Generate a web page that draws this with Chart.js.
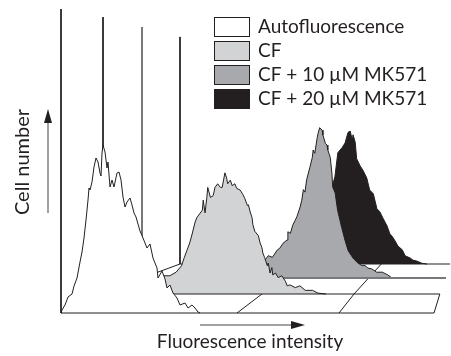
<!DOCTYPE html>
<html><head><meta charset="utf-8">
<script src="https://cdn.jsdelivr.net/npm/chart.js@4"></script>
<style>html,body{margin:0;padding:0;background:#fff;}#wrap{width:451px;height:356px;}</style>
</head><body><div id="wrap"><canvas id="c" width="451" height="356"></canvas></div>
<script>
// ---- data ----
const seriesLabels = ['Autofluorescence', 'CF', 'CF + 10 \u00b5M MK571', 'CF + 20 \u00b5M MK571'];
const autoChannels = [0,1,4,7,11,13,16,19,21,23,25,27,28,29,31,33,35,37,39,40,41,42,44,46,47,49,51,53,56,58,60,62,64,66,69,71,73,75,77,79,82,86,89,92,96,97,101,104,106,109,112,116,119,124,127,131,134,137,139];
const autoCounts   = [0,3,8,16,19,27,35,51,61,75,93,113,125,123,131,146,155,151,140,137,160,168,161,145,151,126,133,126,140,141,133,116,106,111,115,108,100,96,89,82,75,65,69,55,45,35,42,34,25,28,20,15,8,10,5,8,5,1,0];
const cfChannels = [19,41,58,65,74,81,87,90,93,96,99,102,104,110,111,113,115,116,119,122,124,127,130,132,135,137,138,141,143,146,148,152,155,157,160,161,163,165,166,168,172,174,176,177,179,182,183,185,187,188,191,194,198,202,204,207,213,218,224,232,238,247];
const cfCounts   = [1,5,12,20,20,24,31,40,48,56,67,79,84,92,103,89,106,117,106,108,117,121,117,117,133,127,121,125,119,121,116,114,109,105,97,98,90,84,76,69,64,56,51,45,40,31,34,23,29,21,23,18,20,14,9,10,7,9,4,4,1,0];
const mk10Channels = [71,108,139,147,151,155,160,166,169,173,178,179,182,185,188,190,194,196,198,200,202,206,209,210,212,215,216,218,221,222,225,227,228,231,233,234,237,240,245,249,253,259,265,270,274,277,282,288,295,301,307];
const mk10Counts   = [1,5,12,18,22,27,25,34,36,42,46,56,54,64,70,74,86,94,107,104,119,134,146,155,151,170,175,182,179,173,163,161,155,146,127,110,103,82,61,46,33,24,18,15,15,12,11,7,7,4,0];
const mk20Channels = [152,173,186,196,204,211,214,218,224,228,232,235,238,239,242,244,249,253,258,262,267,272,276,280,286,290,293,297,301,307,311,318,322,327,334,341];
const mk20Counts   = [1,8,21,43,72,106,117,149,156,162,176,178,166,173,163,141,131,125,115,99,94,74,70,62,51,40,37,31,24,19,11,8,5,4,1,0];
const channelMax = 373;
const countMax = 304;
const floorChannels = [0, 176, 278, 373];

// ---- layout / style (3D offset of each layer) ----
const layerShiftX = [0, 42, 81, 119];
const layerShiftY = [0, 19, 35, 49];
const layerScaleX = [1, 0.903, 0.815, 0.724];
const layerScaleY = [1, 0.911, 0.826, 0.747];
const fillColors = ['#ffffff', '#d1d3d4', '#a7a9ac', '#231f20'];
const ink = '#231f20';
const FONT = 'Lato, "DejaVu Sans", sans-serif';

function toLayer(k, ch, cnt) {
  return { x: layerShiftX[k] + layerScaleX[k] * ch, y: layerShiftY[k] + layerScaleY[k] * cnt };
}
const hists = [[autoChannels, autoCounts], [cfChannels, cfCounts], [mk10Channels, mk10Counts], [mk20Channels, mk20Counts]];
const datasets = [];
hists.forEach(([chs, cnts], k) => {
  datasets.push({
    label: seriesLabels[k], isSeries: true,
    data: chs.map((c, i) => toLayer(k, c, cnts[i])),
    backgroundColor: fillColors[k], borderColor: ink, borderWidth: 1,
    fill: { value: layerShiftY[k] }, pointRadius: 0, tension: 0, clip: false, order: 10 * k + 1
  });
  datasets.push({
    label: 'axes' + k,
    data: [toLayer(k, 0, countMax), toLayer(k, 0, 0), toLayer(k, channelMax, 0)],
    borderColor: k === 2 ? '#77787b' : ink, borderWidth: k === 2 ? 2 : 1,
    fill: false, pointRadius: 0, tension: 0, clip: false, order: 10 * k
  });
});
floorChannels.forEach((c, i) => {
  datasets.push({
    label: 'floor' + i,
    data: [0, 1, 2, 3].map(k => toLayer(k, c, 0)),
    borderColor: ink, borderWidth: 1, fill: false, pointRadius: 0, tension: 0, clip: false, order: 100
  });
});

const decor = {
  id: 'decor',
  afterDraw(chart) {
    const ctx = chart.ctx;
    ctx.save();
    ctx.fillStyle = ink;
    // y title
    ctx.save();
    ctx.font = '20px ' + FONT;
    ctx.translate(23, 162);
    ctx.rotate(-Math.PI / 2);
    ctx.textAlign = 'center'; ctx.textBaseline = 'middle';
    ctx.fillText('Cell number', 0, 0);
    ctx.restore();
    // x title
    ctx.font = '19px ' + FONT;
    ctx.textAlign = 'center'; ctx.textBaseline = 'alphabetic';
    ctx.fillText('Fluorescence intensity', 250, 348);
    // arrows
    ctx.strokeStyle = '#808285'; ctx.lineWidth = 1.5;
    ctx.beginPath(); ctx.moveTo(48, 213); ctx.lineTo(48, 120); ctx.stroke();
    ctx.beginPath(); ctx.moveTo(48, 109); ctx.lineTo(44, 123); ctx.lineTo(52, 123); ctx.closePath(); ctx.fill();
    ctx.beginPath(); ctx.moveTo(200, 325); ctx.lineTo(293, 325); ctx.stroke();
    ctx.beginPath(); ctx.moveTo(305, 325); ctx.lineTo(291, 321); ctx.lineTo(291, 329); ctx.closePath(); ctx.fill();
    // legend
    const series = chart.data.datasets.filter(d => d.isSeries);
    ctx.font = '19px ' + FONT;
    ctx.textAlign = 'left'; ctx.textBaseline = 'middle';
    ctx.lineWidth = 1; ctx.strokeStyle = ink;
    series.forEach((d, i) => {
      const y = 17 + 24 * i;
      ctx.fillStyle = d.backgroundColor;
      ctx.fillRect(214.5, y + 0.5, 35, 19);
      ctx.strokeRect(214.5, y + 0.5, 35, 19);
      ctx.fillStyle = ink;
      ctx.fillText(d.label, 258, y + 10);
    });
    ctx.restore();
  }
};

new Chart(document.getElementById('c'), {
  type: 'line',
  data: { datasets },
  options: {
    responsive: false, animation: false, devicePixelRatio: 1,
    layout: { padding: { left: 61, right: 17, top: 9, bottom: 43 } },
    scales: {
      x: { type: 'linear', min: 0, max: channelMax, display: false },
      y: { type: 'linear', min: 0, max: countMax, display: false }
    },
    plugins: { legend: { display: false }, tooltip: { enabled: false } }
  },
  plugins: [decor]
});
</script>
</body></html>
